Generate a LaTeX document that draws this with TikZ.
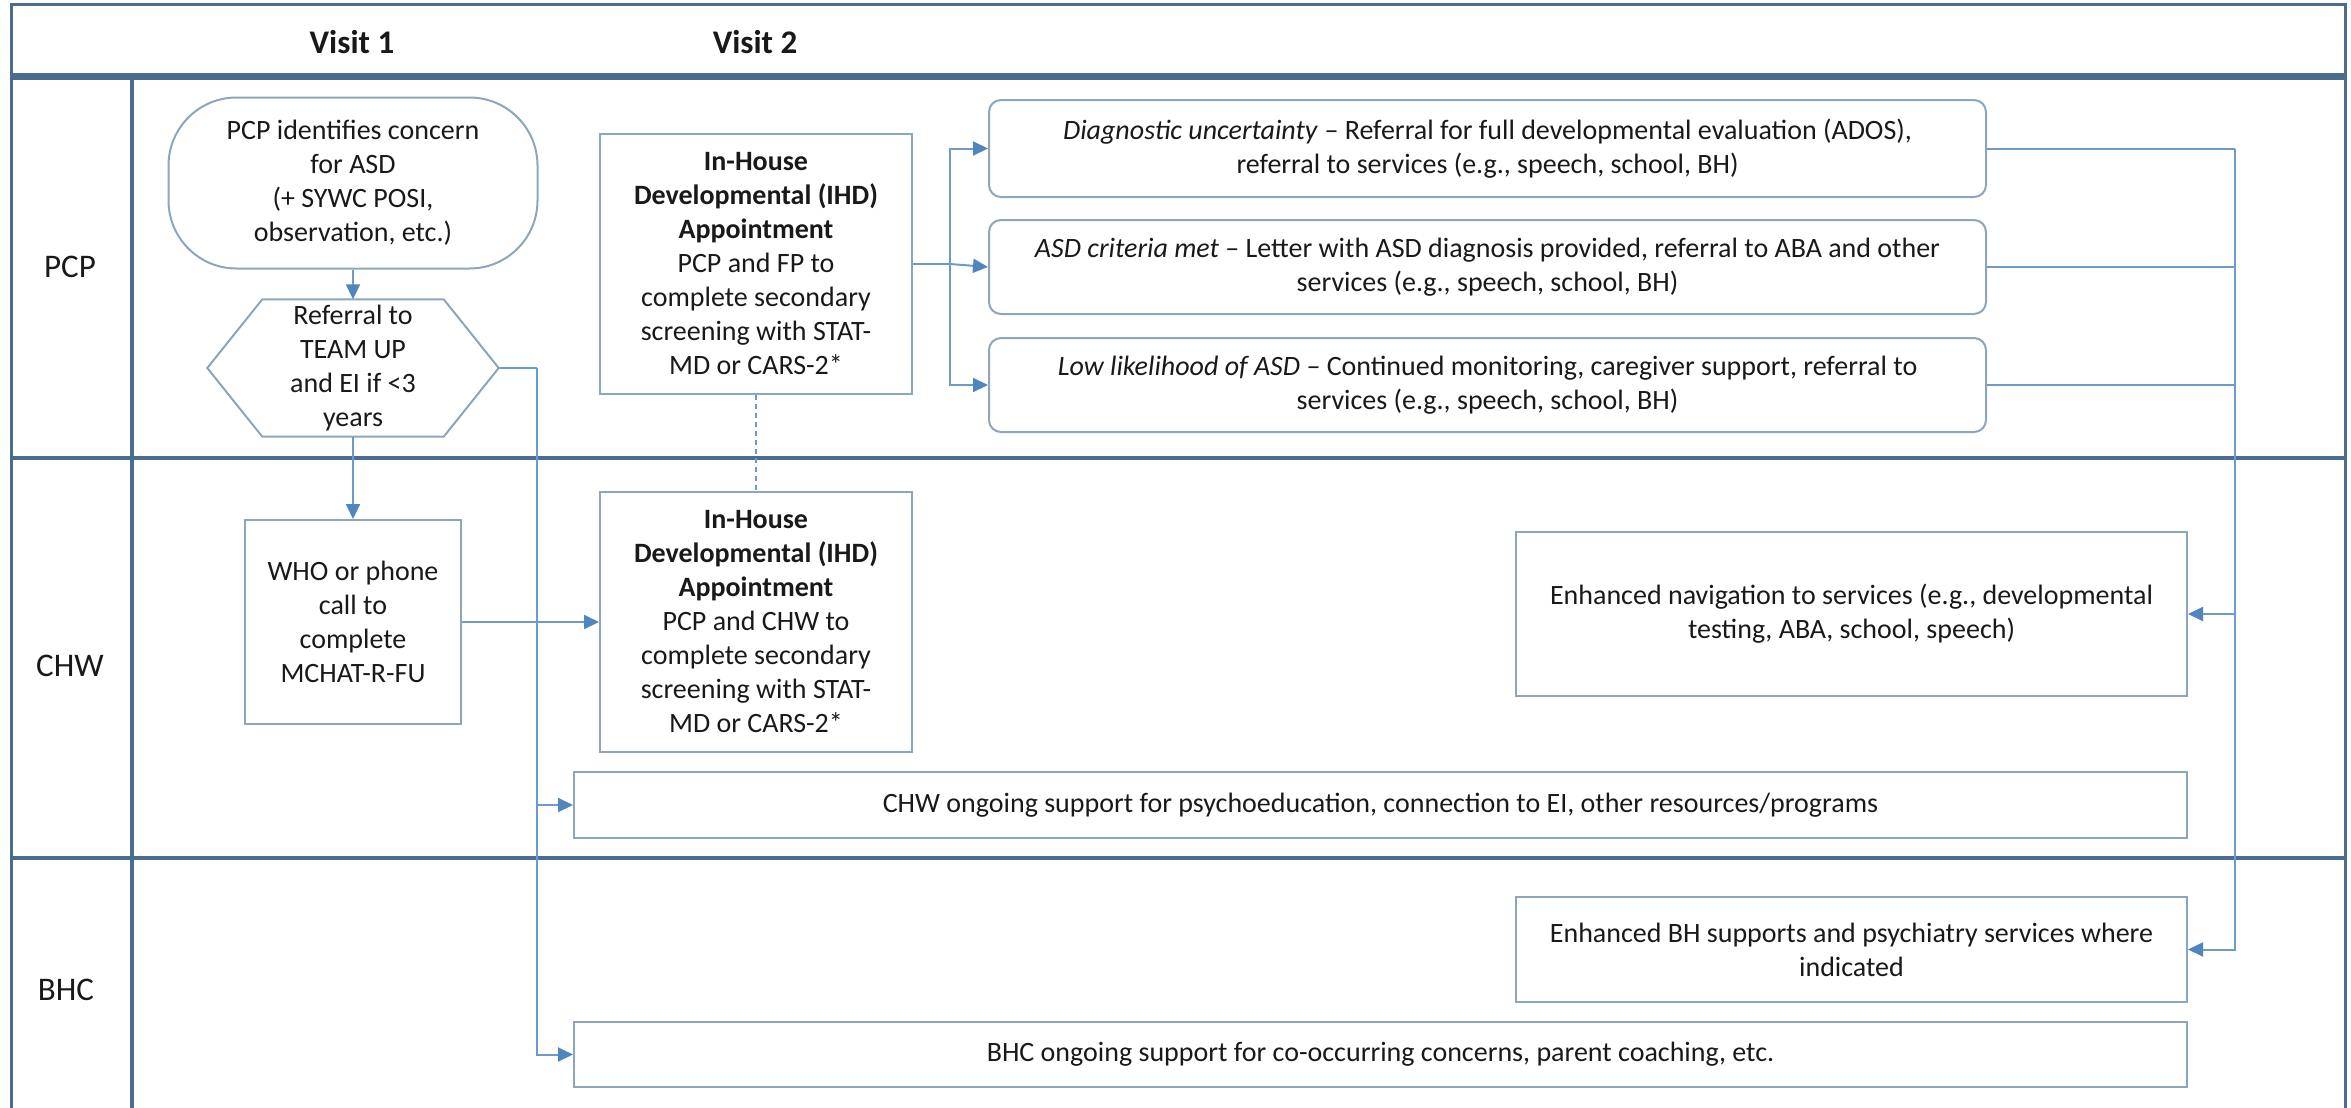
\documentclass[tikz,border=0pt]{standalone}
\usepackage{fontspec}
\setmainfont{Carlito}
\usepackage{xcolor}
\usetikzlibrary{arrows.meta, positioning, shapes.geometric}

\definecolor{lanec}{HTML}{4A6D8F}
\definecolor{boxc}{HTML}{8DA5BD}
\definecolor{linkc}{HTML}{6C9BC9}
\definecolor{tipc}{HTML}{4F86C0}

\begin{document}
\begin{tikzpicture}[
  x=1pt, y=-1pt,
  every node/.style={font=\fontsize{28}{34}\selectfont, text=black!90},
  box/.style={draw=boxc, line width=2pt, align=center, inner sep=2pt},
  rbox/.style={box, rounded corners=12pt},
  lane/.style={draw=lanec, line width=3.5pt},
  lanelabel/.style={font=\fontsize{33}{40}\selectfont},
  visit/.style={font=\fontsize{33}{40}\selectfont\bfseries},
  link/.style={draw=linkc, line width=2pt},
  arr/.style={link, -{Triangle[length=15pt, width=14pt, fill=tipc, color=tipc]}}
]
\useasboundingbox (0,0) rectangle (2351,1108);

% swimlane frame
\draw[lane, line width=3pt] (11,1108) -- (11,5) -- (2345,5) -- (2345,1108);
\draw[lane, line width=7pt] (11,77) -- (2345,77);
\draw[lane] (11,458) -- (2345,458);
\draw[lane] (11,858) -- (2345,858);
\draw[lane] (132,77) -- (132,1108);

% headers and lane names
\node[visit] (v1) at (352,42) {Visit 1};
\node[visit] (v2) at (755,42) {Visit 2};
\node[lanelabel] (pcp) at (70,267) {PCP};
\node[lanelabel] (chw) at (70,666) {CHW};
\node[lanelabel] (bhc) at (66,990) {BHC};

% Visit 1
\node[box, rounded corners=68pt, minimum width=369pt, minimum height=171pt] (concern) at (353,183)
  {PCP identifies concern\\ for ASD\\ (+ SYWC POSI,\\ observation, etc.)};
\node[minimum width=291pt, minimum height=137pt, align=center, inner sep=0pt] (refer) at (353,368)
  {Referral to\\ TEAM UP\\ and EI if <3\\ years};
\draw[box] (refer.west) -- ([xshift=55pt]refer.north west) -- ([xshift=-55pt]refer.north east)
  -- (refer.east) -- ([xshift=-55pt]refer.south east) -- ([xshift=55pt]refer.south west) -- cycle;
\node[box, minimum width=216pt, minimum height=204pt] (who) at (353,622)
  {WHO or phone\\ call to\\ complete\\ MCHAT-R-FU};

% Visit 2
\node[box, minimum width=312pt, minimum height=260pt] (ihdpcp) at (756,264)
  {\textbf{In-House}\\ \textbf{Developmental (IHD)}\\ \textbf{Appointment}\\ PCP and FP to\\ complete secondary\\ screening with STAT-\\ MD or CARS-2*};
\node[box, minimum width=312pt, minimum height=260pt] (ihdchw) at (756,622)
  {\textbf{In-House}\\ \textbf{Developmental (IHD)}\\ \textbf{Appointment}\\ PCP and CHW to\\ complete secondary\\ screening with STAT-\\ MD or CARS-2*};

% outcomes
\node[rbox, minimum width=997pt, minimum height=97pt] (uncert) at (1487.5,148.5)
  {\textit{Diagnostic uncertainty} – Referral for full developmental evaluation (ADOS),\\ referral to services (e.g., speech, school, BH)};
\node[rbox, minimum width=997pt, minimum height=94pt, below=21pt of uncert] (met)
  {\textit{ASD criteria met} – Letter with ASD diagnosis provided, referral to ABA and other\\ services (e.g., speech, school, BH)};
\node[rbox, minimum width=997pt, minimum height=94pt, below=22pt of met] (low)
  {\textit{Low likelihood of ASD} – Continued monitoring, caregiver support, referral to\\ services (e.g., speech, school, BH)};

% services
\node[box, minimum width=671pt, minimum height=164pt] (nav) at (1851.5,614)
  {Enhanced navigation to services (e.g., developmental\\ testing, ABA, school, speech)};
\node[box, minimum width=1613pt, minimum height=66pt] (chwsup) at (1380.5,805)
  {CHW ongoing support for psychoeducation, connection to EI, other resources/programs};
\node[box, minimum width=671pt, minimum height=105pt] (bhsup) at (1851.5,949.5)
  {Enhanced BH supports and psychiatry services where\\ indicated};
\node[box, minimum width=1613pt, minimum height=65pt] (bhcsup) at (1380.5,1054.5)
  {BHC ongoing support for co-occurring concerns, parent coaching, etc.};

% junctions
\coordinate (spine) at (537,368);
\coordinate (fork) at (950,264);
\coordinate (bus) at (2235,148.5);

% Visit 1 flow
\draw[arr] (concern) -- (refer);
\draw[arr] (refer) -- (who);
\draw[arr] (who) -- (ihdchw);
\draw[link, line width=1.5pt, dash pattern=on 5pt off 4pt] (ihdpcp) -- (ihdchw);

% referral to ongoing supports
\draw[link] (refer.east) -- (spine);
\draw[arr] (spine) |- (chwsup.west);
\draw[arr] (spine) |- (bhcsup.west);

% IHD outcomes
\draw[link] (ihdpcp.east) -- (fork);
\draw[arr] (fork) |- (uncert.west);
\draw[arr] (fork) -- (met.west);
\draw[arr] (fork) |- (low.west);

% outcomes to services
\draw[link] (uncert.east) -- (bus);
\draw[link] (met.east) -- (met.east -| bus);
\draw[link] (low.east) -- (low.east -| bus);
\draw[arr] (bus) |- (nav.east);
\draw[arr] (bus) |- (bhsup.east);

\end{tikzpicture}
\end{document}
